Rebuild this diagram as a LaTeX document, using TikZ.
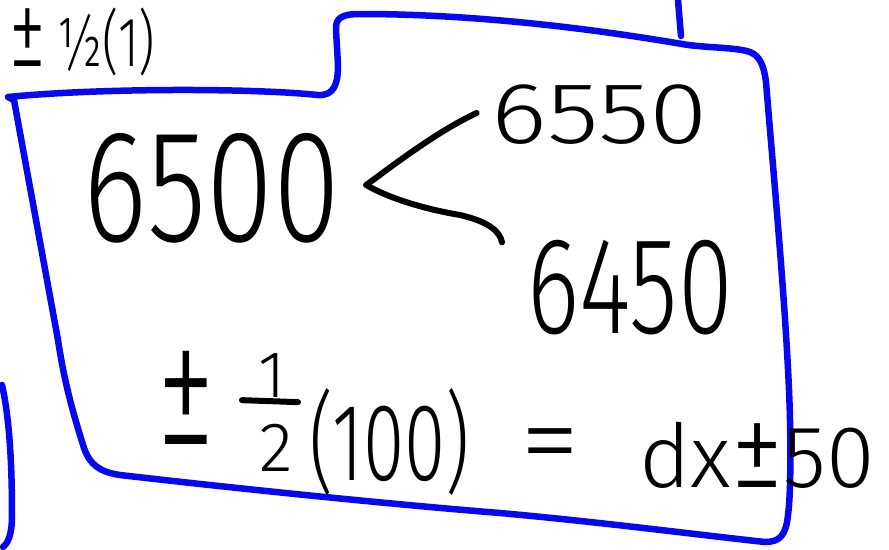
\documentclass[tikz,border=0pt]{standalone}
\usepackage{fontspec}
\usepackage{graphicx}
\usetikzlibrary{calc}
\IfFontExistsTF{Fira Sans Light}{\newfontfamily\hand{Fira Sans Light}}{\newfontfamily\hand{Fira Sans}}
\definecolor{penblue}{RGB}{8,8,240}
\tikzset{
  blueline/.style={draw=penblue, line width=6.5pt, line cap=round, line join=round},
  ink/.style={draw=black, line width=6pt, line cap=round, line join=round},
  txt/.style={font=\hand, inner sep=0pt, anchor=center, text=black}
}
\newcommand{\hsz}[1]{\fontsize{#1}{#1}\selectfont}
\begin{document}
\begin{tikzpicture}[x=1pt,y=-1pt]
\useasboundingbox (0,0) rectangle (889,549);
% folder outline
\draw[blueline] (8,97) .. controls (100,88) and (250,88) .. (318,95)
  .. controls (334,96) and (338,84) .. (338,65) -- (336,30)
  .. controls (335,18) and (342,14) .. (360,14)
  .. controls (480,14) and (600,30) .. (682,44)
  .. controls (705,48) and (735,47) .. (750,52)
  .. controls (760,56) and (764,66) .. (766,82)
  .. controls (774,180) and (788,330) .. (790,420)
  .. controls (791,470) and (790,500) .. (788,515)
  .. controls (786,535) and (780,542) .. (765,542)
  .. controls (700,535) and (600,522) .. (500,513)
  .. controls (400,505) and (250,490) .. (120,475)
  .. controls (100,472) and (90,465) .. (84,448)
  .. controls (72,410) and (64,380) .. (58,340)
  -- (14,100) -- cycle;
\draw[blueline] (2,385) .. controls (10,420) and (12,470) .. (12,515)
  .. controls (12,535) and (8,543) .. (3,547);
\draw[blueline] (678,0) -- (681,36);
% texts
\node[txt] (pmA) at (28,38) {\hsz{62}\scalebox{1.2}[1.8]{±}};
\node[txt] (halfA) at (106,42) {\hsz{70}\scalebox{0.72}[1]{½(1)}};
\node[txt] (n6500) at (212,188) {\hsz{160}\scalebox{0.76}[1]{6500}};
\node[txt] (n6550) at (600,115) {\hsz{87}\scalebox{1.22}[1]{6550}};
\node[txt] (n6450) at (630,288) {\hsz{138}\scalebox{0.72}[1]{6450}};
\node[txt] (pmB) at (186,398) {\hsz{90}\scalebox{1.3}[2.0]{±}};
\node[txt] (one) at (272,376) {\hsz{66}1};
\node[txt] (two) at (276,448) {\hsz{70}2};
\node[txt] (paren) at (390,442) {\hsz{110}\scalebox{0.68}[1]{(100)}};
\node[txt] (eq) at (550,453) {\hsz{110}\scalebox{1.1}[1]{=}};
\node[txt] (res) at (757,455) {\hsz{88}dx\scalebox{1.2}[1.4]{±}50};
% fraction bar
\draw[ink] ($(one.south)+(-30,2)$) -- ($(one.south)+(26,4)$);
% branches
\coordinate (fork) at ($(n6500.east)+(26,-3)$);
\coordinate (upend) at ($(n6550.west)+(-15,-2)$);
\coordinate (lowend) at ($(n6450.north west)+(-25,2)$);
\draw[ink] (fork) .. controls (400,160) and (440,130) .. (upend);
\draw[ink] (fork) .. controls (392,200) and (430,210) .. (460,215)
  .. controls (490,222) and (500,232) .. (lowend);
\end{tikzpicture}
\end{document}
